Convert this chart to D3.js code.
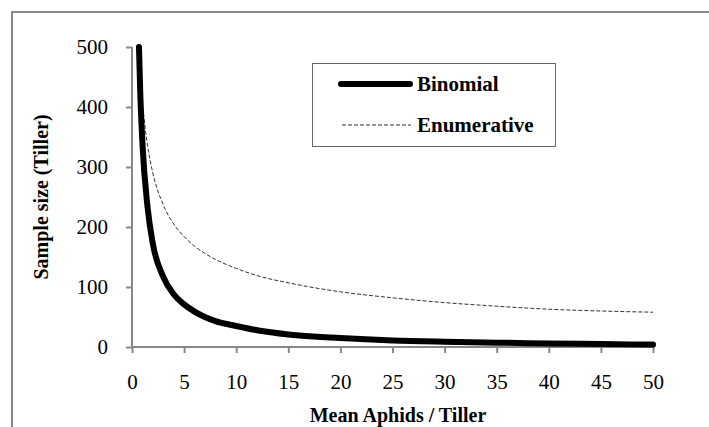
<!DOCTYPE html>
<html><head><meta charset="utf-8">
<script src="https://cdn.jsdelivr.net/npm/d3@7"></script>
<style>
html,body{margin:0;padding:0;background:#fff;}
svg{display:block;}
svg text{font-family:"Liberation Serif","Times New Roman","DejaVu Serif",serif !important;fill:#000;}
</style></head>
<body>
<svg id="chart" width="709" height="427"></svg>
<script>
const meanAphids = [0.67,0.8,1,1.5,2,3,4,5,6,7,8,10,12,15,20,25,30,35,40,45,50];
const binomial   = [500,420,340,232,172,117,88,71,59,50,43,35,28,21,15,11,8.8,7.2,6,4.9,4];
const enumerative= [500,458,410,335,290,237,205,184,168,156,146,131,119,107,92,82,74,68,63,60,58];
const xTicks = [0,5,10,15,20,25,30,35,40,45,50];
const yTicks = [0,100,200,300,400,500];
const seriesNames = ["Binomial","Enumerative"];

const FONT = "'Liberation Serif','Times New Roman','DejaVu Serif',serif";
const svg = d3.select("#chart");
// outer frame
svg.append("path").attr("d","M12,440 L12,12 L720,12")
  .attr("fill","none").attr("stroke","#888").attr("stroke-width",2);

const x = d3.scaleLinear().domain([0,50]).range([132,653]);
const y = d3.scaleLinear().domain([0,500]).range([347,47]);

const xAxis = svg.append("g").attr("transform","translate(0,347)")
  .call(d3.axisBottom(x).tickValues(xTicks).tickSize(6).tickPadding(21));
const yAxis = svg.append("g").attr("transform","translate(132,0)")
  .call(d3.axisLeft(y).tickValues(yTicks).tickSize(6).tickPadding(18));
[xAxis,yAxis].forEach(g=>{
  g.attr("font-family",FONT).attr("font-size",21);
  g.selectAll("path,line").attr("stroke","#888").attr("stroke-width",2);
  g.select(".domain").attr("d", g===xAxis ? "M132,0H653" : "M0,347V47");
  g.selectAll("text").attr("fill","#000");
});

const line = d3.line().x((d,i)=>x(meanAphids[i])).y(d=>y(d)).curve(d3.curveMonotoneX);
svg.append("path").datum(enumerative).attr("d",line)
  .attr("fill","none").attr("stroke","#333").attr("stroke-width",1).attr("stroke-dasharray","4,2");
svg.append("path").datum(binomial).attr("d",line)
  .attr("fill","none").attr("stroke","#000").attr("stroke-width",6).attr("stroke-linecap","round");

// axis titles
svg.append("text").attr("x",398).attr("y",422).attr("text-anchor","middle")
  .attr("font-family",FONT).attr("font-size",20).attr("font-weight","bold").text("Mean Aphids / Tiller");
svg.append("text").attr("transform","translate(48,197) rotate(-90)").attr("text-anchor","middle")
  .attr("font-family",FONT).attr("font-size",20).attr("font-weight","bold").text("Sample size (Tiller)");

// legend
const lg = svg.append("g");
lg.append("rect").attr("x",312.5).attr("y",63.5).attr("width",243).attr("height",83)
  .attr("fill","#fff").attr("stroke","#666").attr("stroke-width",1);
lg.append("line").attr("x1",341).attr("x2",410).attr("y1",84).attr("y2",84)
  .attr("stroke","#000").attr("stroke-width",6).attr("stroke-linecap","round");
lg.append("line").attr("x1",342).attr("x2",411).attr("y1",125).attr("y2",125)
  .attr("stroke","#333").attr("stroke-width",1).attr("stroke-dasharray","4,2");
lg.append("text").attr("x",417).attr("y",91).attr("font-family",FONT).attr("font-size",21).attr("font-weight","bold").text(seriesNames[0]);
lg.append("text").attr("x",417).attr("y",132).attr("font-family",FONT).attr("font-size",21).attr("font-weight","bold").text(seriesNames[1]);
</script>
</body></html>
